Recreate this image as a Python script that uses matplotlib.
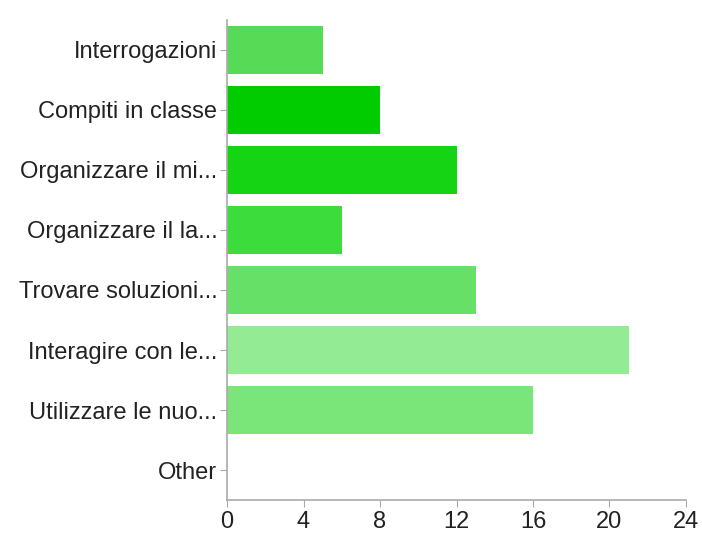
import matplotlib
matplotlib.use("Agg")
import matplotlib.pyplot as plt

categories = ["Interrogazioni", "Compiti in classe", "Organizzare il mi...",
              "Organizzare il la...", "Trovare soluzioni...", "Interagire con le...",
              "Utilizzare le nuo...", "Other"]
counts = [5, 8, 12, 6, 13, 21, 16, 0]
colors = ["#57DB57", "#00CC00", "#14D414", "#3DDC3D", "#66E066", "#93EB93", "#7AE67A", "#7AE67A"]
xticks = [0, 4, 8, 12, 16, 20, 24]

plt.rcParams['font.family'] = ['Liberation Sans', 'DejaVu Sans']

fig = plt.figure(figsize=(7.02, 5.36), dpi=100)
ax = fig.add_axes([0.3234, 0.067, 0.6538, 0.896])

ypos = list(range(len(categories)))
ax.barh(ypos, counts, height=0.8, color=colors)

ax.set_xlim(0, 24)
ax.set_ylim(len(categories) - 0.5, -0.5)
ax.set_xticks(xticks)
ax.set_yticks(ypos)
ax.set_yticklabels(categories)

for s in ["top", "right"]:
    ax.spines[s].set_visible(False)
for s in ["left", "bottom"]:
    ax.spines[s].set_color("#aaaaaa")
    ax.spines[s].set_linewidth(1.2)

ax.tick_params(axis="both", colors="#aaaaaa", labelcolor="#222222", labelsize=17, length=5)
ax.tick_params(axis="y", pad=2)
ax.tick_params(axis="x", pad=3)

fig.savefig("out.png", dpi=100)
